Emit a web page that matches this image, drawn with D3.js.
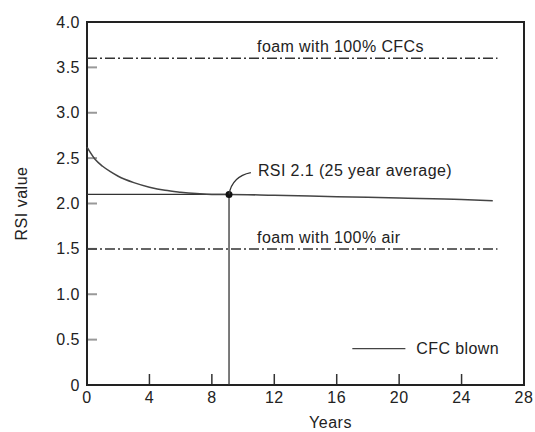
<!DOCTYPE html>
<html>
<head>
<meta charset="utf-8">
<script src="https://cdn.jsdelivr.net/npm/d3@7"></script>
<style>
  body { margin: 0; background: #fff; }
  text { font-family: "Liberation Sans", Arial, sans-serif; fill: #222; }
</style>
</head>
<body>
<div id="chart"></div>
<script>
// CFC blown foam, RSI value over time
var years = [0, 0.5, 1, 1.5, 2, 3, 4, 5, 6, 7, 8, 9.1, 12, 16, 20, 24, 26];
var rsi = [2.62, 2.49, 2.41, 2.35, 2.30, 2.23, 2.18, 2.145, 2.125, 2.11, 2.10, 2.10, 2.09, 2.075, 2.06, 2.045, 2.03];

var refLabels = ["foam with 100% CFCs", "foam with 100% air"];
var refValues = [3.6, 1.5];
var refEnd = 26.3;

var avgValue = 2.1;
var avgYear = 9.1;

var xTicks = [0, 4, 8, 12, 16, 20, 24, 28];
var yTicks = [0, 0.5, 1.0, 1.5, 2.0, 2.5, 3.0, 3.5, 4.0];

var W = 535, H = 432;
var margin = {top: 22, right: 11, bottom: 47, left: 87};
var width = W - margin.left - margin.right,
    height = H - margin.top - margin.bottom;

var svg = d3.select("#chart").append("svg")
    .attr("width", W)
    .attr("height", H);

var g = svg.append("g")
    .attr("transform", "translate(" + margin.left + "," + margin.top + ")");

var x = d3.scaleLinear().domain([0, 28]).range([0, width]);
var y = d3.scaleLinear().domain([0, 4]).range([height, 0]);

// y ticks (inside, grey)
g.selectAll(".ytick")
    .data(yTicks.slice(1, -1))
    .enter().append("line")
    .attr("x1", 0).attr("x2", 10)
    .attr("y1", function(d) { return y(d); })
    .attr("y2", function(d) { return y(d); })
    .attr("stroke", "#999").attr("stroke-width", 2);

g.selectAll(".ylab")
    .data(yTicks)
    .enter().append("text")
    .attr("x", -7)
    .attr("y", function(d) { return y(d); })
    .attr("dy", "0.35em")
    .attr("text-anchor", "end")
    .style("font-size", "16px")
    .style("letter-spacing", "0.5px")
    .text(function(d) { return d == 0 ? "0" : d3.format(".1f")(d); });

// x ticks (inside, pointing up)
g.selectAll(".xtick")
    .data(xTicks.slice(1, -1))
    .enter().append("line")
    .attr("x1", function(d) { return x(d); })
    .attr("x2", function(d) { return x(d); })
    .attr("y1", height).attr("y2", height - 11)
    .attr("stroke", "#333").attr("stroke-width", 1.5);

g.selectAll(".xlab")
    .data(xTicks)
    .enter().append("text")
    .attr("x", function(d) { return x(d); })
    .attr("y", height + 18)
    .attr("text-anchor", "middle")
    .style("font-size", "16px")
    .style("letter-spacing", "0.5px")
    .text(function(d) { return d; });

// frame
g.append("rect")
    .attr("x", 0).attr("y", 0)
    .attr("width", width).attr("height", height)
    .attr("fill", "none")
    .attr("stroke", "#222").attr("stroke-width", 2);

// reference lines (dash-dot)
g.selectAll(".ref")
    .data(refValues)
    .enter().append("line")
    .attr("x1", x(0)).attr("x2", x(refEnd))
    .attr("y1", function(d) { return y(d); })
    .attr("y2", function(d) { return y(d); })
    .attr("stroke", "#333").attr("stroke-width", 1.5)
    .attr("stroke-dasharray", "10,3,2,3");

g.selectAll(".reflab")
    .data(refValues)
    .enter().append("text")
    .attr("x", x(10.9))
    .attr("y", function(d) { return y(d) - 6; })
    .style("font-size", "16px")
    .style("letter-spacing", "0.4px")
    .text(function(d, i) { return refLabels[i]; });

// average lines
g.append("line")
    .attr("x1", x(0)).attr("x2", x(avgYear))
    .attr("y1", y(avgValue)).attr("y2", y(avgValue))
    .attr("stroke", "#333").attr("stroke-width", 1.3);
g.append("line")
    .attr("x1", x(avgYear)).attr("x2", x(avgYear))
    .attr("y1", y(avgValue)).attr("y2", y(0))
    .attr("stroke", "#333").attr("stroke-width", 1.3);

// CFC blown curve
var line = d3.line()
    .x(function(d, i) { return x(years[i]); })
    .y(function(d) { return y(d); })
    .curve(d3.curveMonotoneX);

g.append("path")
    .datum(rsi)
    .attr("d", line)
    .attr("fill", "none")
    .attr("stroke", "#444")
    .attr("stroke-width", 1.5);

// average point + leader
g.append("circle")
    .attr("cx", x(avgYear)).attr("cy", y(avgValue))
    .attr("r", 3.5).attr("fill", "#111");

var lp = d3.path();
lp.moveTo(x(avgYear), y(avgValue));
lp.quadraticCurveTo(x(avgYear + 0.2), y(2.3), x(avgYear + 1.4), y(2.34));
g.append("path")
    .attr("d", lp.toString())
    .attr("fill", "none").attr("stroke", "#333").attr("stroke-width", 1.3);

g.append("text")
    .attr("x", x(10.95))
    .attr("y", y(2.3))
    .style("font-size", "16px")
    .style("letter-spacing", "0.4px")
    .text("RSI 2.1 (25 year average)");

// legend
g.append("line")
    .attr("x1", x(17)).attr("x2", x(20.4))
    .attr("y1", y(0.4)).attr("y2", y(0.4))
    .attr("stroke", "#444").attr("stroke-width", 1.3);
g.append("text")
    .attr("x", x(21.1))
    .attr("y", y(0.4))
    .attr("dy", "0.35em")
    .style("font-size", "16px")
    .style("letter-spacing", "0.4px")
    .text("CFC blown");

// axis titles
svg.append("text")
    .attr("transform", "translate(27," + (margin.top + y(2.0)) + ") rotate(-90)")
    .attr("text-anchor", "middle")
    .style("font-size", "16px")
    .style("letter-spacing", "0.5px")
    .text("RSI value");

svg.append("text")
    .attr("x", margin.left + x(15.6))
    .attr("y", 428)
    .attr("text-anchor", "middle")
    .style("font-size", "16px")
    .style("letter-spacing", "0.5px")
    .text("Years");
</script>
</body>
</html>
